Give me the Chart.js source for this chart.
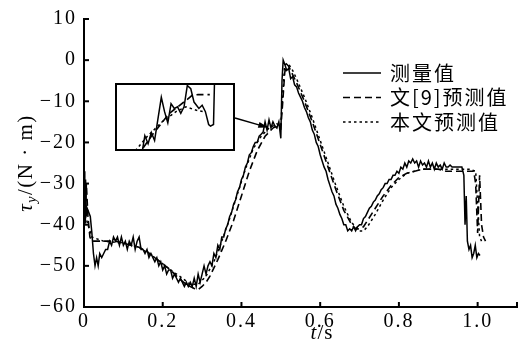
<!DOCTYPE html>
<html>
<head>
<meta charset="utf-8">
<script src="https://cdn.jsdelivr.net/npm/chart.js@4/dist/chart.umd.min.js"></script>
<style>
  body { margin: 0; background: #fff; }
  #wrap { position: relative; width: 528px; height: 354px; }
  #inset {
    position: absolute; left: 115px; top: 83px; width: 120px; height: 68px;
    border: 2px solid #000; box-sizing: border-box; background: #fff;
  }
</style>
</head>
<body>
<div id="wrap">
  <canvas id="grafico" width="528" height="354"></canvas>
  <div id="inset"><canvas id="detalle" width="116" height="64"></canvas></div>
</div>
<script>
// nombres de las series
const seriesNames = ["测量值", "文[9]预测值", "本文预测值"];

// ejes
const yTickValues = [10, 0, -10, -20, -30, -40, -50, -60];
const xTickValues = [0, 0.2, 0.4, 0.6, 0.8, 1.0];
const xTickLabels = ["0", "0.2", "0.4", "0.6", "0.8", "1.0"];

// 测量值 (t, valor)
const measuredT = [
  0.000, 0.002, 0.004, 0.006, 0.008, 0.012, 0.016, 0.020, 0.024, 0.028, 0.032, 0.036, 0.040,
  0.045, 0.050, 0.055, 0.060, 0.065, 0.070, 0.075, 0.080, 0.085, 0.090, 0.095, 0.100,
  0.105, 0.110, 0.115, 0.120, 0.125, 0.130, 0.135, 0.140, 0.145, 0.150, 0.155, 0.160,
  0.165, 0.170, 0.175, 0.180, 0.185, 0.190, 0.195, 0.200, 0.205, 0.210, 0.215, 0.220,
  0.225, 0.230, 0.235, 0.240, 0.245, 0.250, 0.255, 0.260, 0.265, 0.270, 0.275, 0.280,
  0.285, 0.290, 0.295, 0.300, 0.305, 0.310, 0.315, 0.320, 0.325, 0.330, 0.335, 0.340,
  0.345, 0.350, 0.355, 0.360, 0.365, 0.370, 0.375, 0.380, 0.385, 0.390, 0.395, 0.400,
  0.405, 0.410, 0.415, 0.420, 0.425, 0.430, 0.435, 0.440, 0.445, 0.450, 0.455, 0.460,
  0.465, 0.470, 0.475, 0.480, 0.485, 0.490, 0.495, 0.500, 0.503, 0.506, 0.510, 0.515,
  0.520, 0.525, 0.530, 0.535, 0.540, 0.545, 0.550, 0.555, 0.560, 0.565, 0.570, 0.575,
  0.580, 0.585, 0.590, 0.595, 0.600, 0.605, 0.610, 0.615, 0.620, 0.625, 0.630, 0.635,
  0.640, 0.645, 0.650, 0.655, 0.660, 0.665, 0.670, 0.675, 0.680, 0.685, 0.690, 0.695,
  0.700, 0.705, 0.710, 0.715, 0.720, 0.725, 0.730, 0.735, 0.740, 0.745, 0.750, 0.755,
  0.760, 0.765, 0.770, 0.775, 0.780, 0.785, 0.790, 0.795, 0.800, 0.805, 0.810, 0.815,
  0.820, 0.825, 0.830, 0.835, 0.840, 0.845, 0.850, 0.855, 0.860, 0.865, 0.870, 0.875,
  0.880, 0.885, 0.890, 0.895, 0.900, 0.905, 0.910, 0.915, 0.920, 0.925, 0.930, 0.935,
  0.940, 0.945, 0.950, 0.955, 0.960, 0.965, 0.968, 0.971, 0.974, 0.978, 0.982, 0.986,
  0.990, 0.994, 0.998, 1.002, 1.006
];
const measuredY = [
  -27, -40, -29, -38, -36, -37, -38, -42, -47, -50, -48, -50, -47,
  -48, -47, -46, -46, -44, -45, -43, -44, -43, -45, -43, -45,
  -44, -46, -44, -45, -43, -46, -44, -43, -46, -46, -47, -46,
  -48, -47, -48, -49, -48, -50, -49, -51, -50, -52, -51, -51,
  -53, -52, -53, -54, -53, -54, -55, -54, -55, -54, -55, -53,
  -55, -52, -54, -52, -50, -52, -50, -49, -50, -47, -48, -45,
  -46, -43, -43, -41, -40, -38, -37, -35, -34, -32, -31, -29,
  -28, -26, -25, -23, -22.5, -21, -20, -20, -18.5, -18, -17.5, -15,
  -17, -14.5, -16.5, -15, -16, -16.5, -15, -19, -5, 0, -1, -2.5,
  -2, -4.5, -4, -6, -6.5, -8, -9, -10, -11.5, -12.5, -14, -15,
  -17, -18, -20, -21, -23, -24.5, -26, -27, -29, -30.5, -32, -33,
  -35, -36, -37.5, -38.5, -40, -40, -41.5, -41, -41.5, -40.5, -41.5, -40.5,
  -40, -40, -38.5, -38, -37, -36, -35.5, -34.5, -34, -33, -32.5, -31.5,
  -31, -30, -30, -29, -29, -28, -28, -27, -27.5, -26, -26.5, -25,
  -26, -24.5, -25, -24, -25, -24.5, -26, -24.5, -25.5, -25, -26, -24.5,
  -26, -25, -26.5, -25, -26, -25.5, -26.5, -25, -26, -26, -25.5, -26,
  -26, -26, -26, -26, -26, -28, -40, -33, -44, -46, -45, -48,
  -47, -45, -48, -47, -47.5
];

// 文[9]预测值
const ref9T = [
  0.000, 0.003, 0.006, 0.010, 0.015, 0.020, 0.050, 0.080, 0.100, 0.120, 0.140, 0.160,
  0.180, 0.200, 0.220, 0.240, 0.260, 0.280, 0.290, 0.300, 0.310, 0.320, 0.340, 0.360,
  0.380, 0.400, 0.420, 0.440, 0.460, 0.480, 0.490, 0.495, 0.500, 0.505, 0.510, 0.515,
  0.520, 0.530, 0.540, 0.560, 0.580, 0.600, 0.620, 0.640, 0.660, 0.680, 0.690, 0.700,
  0.710, 0.720, 0.740, 0.760, 0.780, 0.800, 0.820, 0.840, 0.860, 0.880, 0.900, 0.920,
  0.940, 0.960, 0.980, 0.990, 0.995, 1.000, 1.005, 1.010, 1.015, 1.020
];
const ref9Y = [
  -27, -40, -30, -38, -43, -44, -44, -44, -44.5, -45, -45.5, -46.5,
  -48, -49.5, -51, -53, -54.5, -55.5, -55.8, -55, -54, -52.5, -48.5, -44,
  -39, -33, -27, -22, -18.5, -16.5, -16, -15.8, -16.5, -10, -3, -1,
  -1.5, -3.5, -5.5, -10, -15, -20.5, -26, -31.5, -36.5, -40, -41, -41,
  -40.5, -39, -36, -33, -30.5, -28.5, -27.5, -27, -26.5, -26.5, -26.5, -27,
  -27, -27, -27, -27, -30, -42, -28, -40, -43, -44
];

// 本文预测值
const oursT = [
  0.000, 0.004, 0.010, 0.020, 0.050, 0.100, 0.140, 0.180, 0.220, 0.250, 0.270, 0.290,
  0.310, 0.330, 0.350, 0.370, 0.390, 0.410, 0.430, 0.450, 0.470, 0.490, 0.500, 0.505,
  0.510, 0.520, 0.530, 0.540, 0.560, 0.580, 0.600, 0.620, 0.640, 0.660, 0.680, 0.700,
  0.710, 0.720, 0.740, 0.760, 0.780, 0.800, 0.820, 0.840, 0.860, 0.900, 0.940, 0.980,
  0.995, 1.000, 1.005, 1.010
];
const oursY = [
  -27, -38, -40, -43, -44, -44.5, -45.5, -48, -51, -53, -54.5, -54.5,
  -52.5, -49, -44, -38.5, -32.5, -26.5, -21.5, -18.5, -16.5, -15.5, -16, -8,
  -1, -1, -2.5, -4.5, -9, -14, -19.5, -25, -30.5, -35.5, -39.5, -41.5,
  -41.5, -40.5, -37.5, -34, -31, -29, -27.5, -27, -26.5, -26.5, -26.5, -26.5,
  -27, -35, -43, -44
];

// recuadro ampliado (zona 0.455 - 0.505 s)
const insetRangeT = [0.455, 0.505];
const insetRangeY = [-22, -10];
const insetMeasuredT = [0.4656, 0.4670, 0.4684, 0.4698, 0.4712, 0.4726, 0.4741, 0.4755, 0.4769, 0.4783,
  0.4797, 0.4811, 0.4825, 0.4839, 0.4853, 0.4868, 0.4882, 0.4903, 0.4917, 0.4931, 0.4945, 0.4953, 0.4966, 0.4971];
const insetMeasuredY = [-23.2, -19.5, -21.0, -18.9, -20.4, -16.5, -12.3, -15.0, -17.1, -13.5,
  -14.4, -14.1, -15.3, -14.1, -10.1, -10.7, -13.2, -14.4, -13.8, -15.0, -17.4, -17.7, -17.4, -8];
const insetRef9T = [0.4635, 0.4705, 0.4776, 0.4847, 0.4875, 0.4900, 0.4950];
const insetRef9Y = [-23.5, -19.2, -15.3, -12.9, -11.9, -11.8, -11.8];
const insetOursT = [0.4614, 0.4677, 0.4747, 0.4804, 0.4847, 0.4889, 0.4923];
const insetOursY = [-23.1, -19.8, -16.8, -15.0, -14.1, -14.7, -15.0];

// punta de la flecha (en unidades de datos)
const arrowTip = [0.468, -16.4];

const puntos = (ts, ys) => ts.map((t, i) => ({ x: t, y: ys[i] }));

const estilos = [
  { borderWidth: 1.5, borderDash: [] },
  { borderWidth: 1.6, borderDash: [7, 4] },
  { borderWidth: 1.5, borderDash: [2.5, 3] }
];

const serie = (nombre, datos, i) => ({
  label: nombre,
  data: datos,
  borderColor: "#000",
  borderWidth: estilos[i].borderWidth,
  borderDash: estilos[i].borderDash,
  pointRadius: 0,
  tension: 0,
  fill: false
});

const SERIF = "'Liberation Serif', 'DejaVu Serif', serif";
const CJK = "'Noto Sans CJK SC', sans-serif";

// espaciado de letras para imitar el original
const espaciadoPlugin = {
  id: "espaciado",
  beforeDraw(chart) { chart.ctx.letterSpacing = "2px"; }
};

// ticks hacia dentro, leyenda, títulos y flecha
const extrasPlugin = {
  id: "extras",
  afterDraw(chart) {
    const ctx = chart.ctx;
    const xs = chart.scales.x, ys = chart.scales.y;
    const area = chart.chartArea;
    ctx.save();
    ctx.strokeStyle = "#000";
    ctx.fillStyle = "#000";
    ctx.lineWidth = 2;
    ctx.setLineDash([]);
    yTickValues.forEach(v => {
      const py = ys.getPixelForValue(v);
      ctx.beginPath(); ctx.moveTo(area.left, py); ctx.lineTo(area.left + 5, py); ctx.stroke();
    });
    xTickValues.concat([1.1]).forEach(v => {
      if (v === 0) return;
      const px = xs.getPixelForValue(v);
      ctx.beginPath(); ctx.moveTo(px, area.bottom); ctx.lineTo(px, area.bottom - 5); ctx.stroke();
    });

    // leyenda
    chart.data.datasets.forEach((ds, i) => {
      const y = 73 + i * 24.5;
      ctx.lineWidth = ds.borderWidth;
      ctx.setLineDash(ds.borderDash);
      ctx.beginPath(); ctx.moveTo(343, y); ctx.lineTo(381, y); ctx.stroke();
      ctx.setLineDash([]);
      ctx.font = "20px " + CJK;
      ctx.letterSpacing = "2px";
      ctx.textBaseline = "middle";
      ctx.textAlign = "left";
      ctx.fillText(ds.label, 390, y);
    });

    // flecha desde el recuadro
    const tipX = xs.getPixelForValue(arrowTip[0]);
    const tipY = ys.getPixelForValue(arrowTip[1]);
    const x0 = 235, y0 = 118;
    const ang = Math.atan2(tipY - y0, tipX - x0);
    ctx.lineWidth = 1.5;
    ctx.beginPath(); ctx.moveTo(x0, y0); ctx.lineTo(tipX - 8 * Math.cos(ang), tipY - 8 * Math.sin(ang)); ctx.stroke();
    ctx.beginPath();
    ctx.moveTo(tipX, tipY);
    ctx.lineTo(tipX - 10 * Math.cos(ang) + 3 * Math.sin(ang), tipY - 10 * Math.sin(ang) - 3 * Math.cos(ang));
    ctx.lineTo(tipX - 10 * Math.cos(ang) - 3 * Math.sin(ang), tipY - 10 * Math.sin(ang) + 3 * Math.cos(ang));
    ctx.closePath(); ctx.fill();

    // título eje x: t/s
    ctx.letterSpacing = "1px";
    ctx.textBaseline = "alphabetic";
    ctx.font = "italic 21px " + SERIF;
    const wT = ctx.measureText("t").width;
    ctx.font = "21px " + SERIF;
    const wS = ctx.measureText("/s").width;
    let sx = 322 - (wT + wS) / 2;
    ctx.font = "italic 21px " + SERIF;
    ctx.fillText("t", sx, 339);
    ctx.font = "21px " + SERIF;
    ctx.fillText("/s", sx + wT, 339);

    // título eje y: τy/(N · m)
    ctx.letterSpacing = "1.5px";
    ctx.translate(32, 163);
    ctx.rotate(-Math.PI / 2);
    const partes = [
      { txt: "τ", font: "italic 21px " + SERIF, dy: 0 },
      { txt: "y", font: "italic 14px " + SERIF, dy: 4 },
      { txt: "/(N · m)", font: "21px " + SERIF, dy: 0 }
    ];
    let total = 0;
    partes.forEach(p => { ctx.font = p.font; p.w = ctx.measureText(p.txt).width; total += p.w; });
    let cx = -total / 2;
    partes.forEach(p => { ctx.font = p.font; ctx.fillText(p.txt, cx, p.dy); cx += p.w; });
    ctx.restore();
  }
};

const ctx = document.getElementById("grafico").getContext("2d");
new Chart(ctx, {
  type: "line",
  data: {
    datasets: [
      serie(seriesNames[0], puntos(measuredT, measuredY), 0),
      serie(seriesNames[1], puntos(ref9T, ref9Y), 1),
      serie(seriesNames[2], puntos(oursT, oursY), 2)
    ]
  },
  options: {
    responsive: false,
    animation: false,
    layout: { padding: { top: 12, right: 11, left: 0, bottom: 0 } },
    plugins: { legend: { display: false }, tooltip: { enabled: false } },
    scales: {
      x: {
        type: "linear",
        min: 0, max: 1.1,
        afterBuildTicks: s => { s.ticks = xTickValues.map(v => ({ value: v })); },
        afterFit: s => { s.height = 47; },
        grid: { display: false, drawTicks: false },
        border: { color: "#000", width: 2 },
        ticks: {
          padding: 3,
          color: "#000",
          font: { family: SERIF, size: 20 },
          maxRotation: 0,
          callback: (v, i) => xTickLabels[i]
        }
      },
      y: {
        min: -60, max: 10,
        afterBuildTicks: s => { s.ticks = yTickValues.map(v => ({ value: v })); },
        afterFit: s => { s.width = 84; },
        grid: { display: false, drawTicks: false },
        border: { color: "#000", width: 2 },
        ticks: {
          padding: 7,
          color: "#000",
          font: { family: SERIF, size: 20 },
          callback: v => String(v).replace("-", "\u2212")
        }
      }
    }
  },
  plugins: [espaciadoPlugin, extrasPlugin]
});

// gráfico del recuadro
const ctx2 = document.getElementById("detalle").getContext("2d");
new Chart(ctx2, {
  type: "line",
  data: {
    datasets: [
      serie(seriesNames[0], puntos(insetMeasuredT, insetMeasuredY), 0),
      serie(seriesNames[1], puntos(insetRef9T, insetRef9Y), 1),
      serie(seriesNames[2], puntos(insetOursT, insetOursY), 2)
    ]
  },
  options: {
    responsive: false,
    animation: false,
    layout: { padding: 0 },
    plugins: { legend: { display: false }, tooltip: { enabled: false } },
    scales: {
      x: { type: "linear", display: false, min: insetRangeT[0], max: insetRangeT[1] },
      y: { display: false, min: insetRangeY[0], max: insetRangeY[1] }
    }
  }
});
</script>
</body>
</html>
